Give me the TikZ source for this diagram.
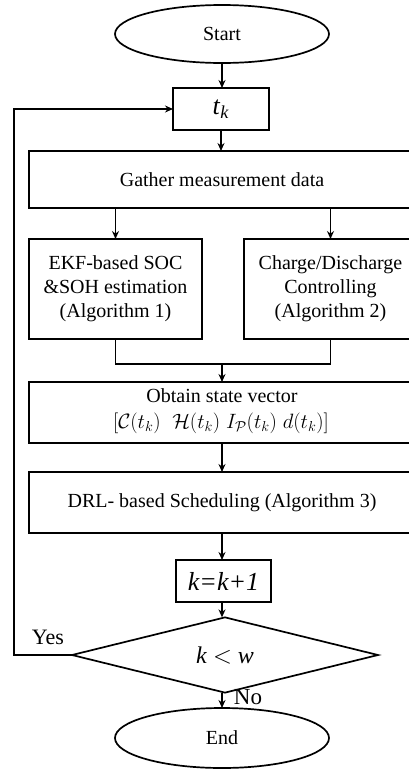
\documentclass[tikz,border=0pt]{standalone}
\usepackage{fontspec}
\setmainfont{Liberation Serif}
\usetikzlibrary{shapes.geometric,arrows.meta}
\tikzset{
  box/.style={draw, line width=1.7pt, rectangle, inner sep=0pt, outer sep=0pt, align=center, font=\fontsize{20}{24}\selectfont},
  term/.style={draw, line width=1.7pt, ellipse, inner sep=0pt, outer sep=0pt, font=\fontsize{20}{24}\selectfont},
  decide/.style={draw, line width=1.7pt, diamond, inner sep=0pt, outer sep=0pt, font=\fontsize{24}{28}\selectfont},
  line/.style={line width=1.7pt},
  arr/.style={line width=1.7pt, -{Stealth[length=8pt,width=7pt]}},
  lbl/.style={font=\fontsize{22}{26}\selectfont, inner sep=0pt}
}
\begin{document}
\begin{tikzpicture}[x=1pt,y=-1pt]
\useasboundingbox (0,0) rectangle (409,769);
\node[term, minimum width=214pt, minimum height=58pt] (start) at (222,34) {Start};
\node[box, minimum width=96pt, minimum height=42pt, font=\fontsize{26}{30}\selectfont] (tk) at (221,109) {\textit{t}\textsubscript{\textit{k}}};
\node[box, minimum width=386pt, minimum height=57pt] (gather) at (222,179.5) {Gather measurement data};
\node[box, minimum width=173pt, minimum height=100pt] (ekf) at (115.5,289) {EKF-based SOC\\\&SOH estimation\\(Algorithm 1)};
\node[box, minimum width=173pt, minimum height=100pt] (charge) at (330.5,289) {Charge/Discharge\\Controlling\\(Algorithm 2)};
\node[box, minimum width=386pt, minimum height=61pt] (obtain) at (222,412.5) {};
\node[inner sep=0pt, font=\fontsize{20}{24}\selectfont] (obt1) at (222,396) {Obtain state vector};
\node[inner sep=0pt, font=\fontsize{21}{24}\selectfont] (obt2) at (221,423) {$\big[\mathcal{C}(t_k)\;\;\mathcal{H}(t_k)\;I_{\mathcal{P}}(t_k)\;d(t_k)\big]$};
\node[box, minimum width=386pt, minimum height=61pt] (drl) at (222,502.5) {DRL- based Scheduling (Algorithm 3)};
\node[box, minimum width=95pt, minimum height=42pt, font=\fontsize{26}{30}\selectfont] (kk) at (223.5,581) {\textit{k=k+1}};
\node[decide, minimum width=306pt, minimum height=60pt] (dia) at (225,655) {\textit{k} $<$ \textit{w}};
\node[term, minimum width=214pt, minimum height=60pt] (end) at (222,738) {End};
\coordinate (m) at (222,364);
\coordinate (lp) at (14,109);
\draw[arr] (start.south) -- (start.south |- tk.north);
\draw[arr] (tk.south) -- (tk.south |- gather.north);
\draw[arr] (ekf.north |- gather.south) -- (ekf.north);
\draw[arr] (charge.north |- gather.south) -- (charge.north);
\draw[line] (ekf.south) |- (m) -| (charge.south);
\draw[arr] (m) -- (m |- obtain.north);
\draw[arr] (m |- obtain.south) -- (m |- drl.north);
\draw[arr] (m |- drl.south) -- (m |- kk.north);
\draw[arr] (m |- kk.south) -- (m |- dia.north);
\draw[arr] (m |- dia.south) -- (m |- end.north);
\draw[arr] (dia.west) -| (lp) -- (tk.west);
\node[lbl, anchor=center] (yes) at (48,637) {Yes};
\node[lbl, anchor=center, font=\fontsize{23}{27}\selectfont] (no) at (248,697) {No};
\end{tikzpicture}
\end{document}
